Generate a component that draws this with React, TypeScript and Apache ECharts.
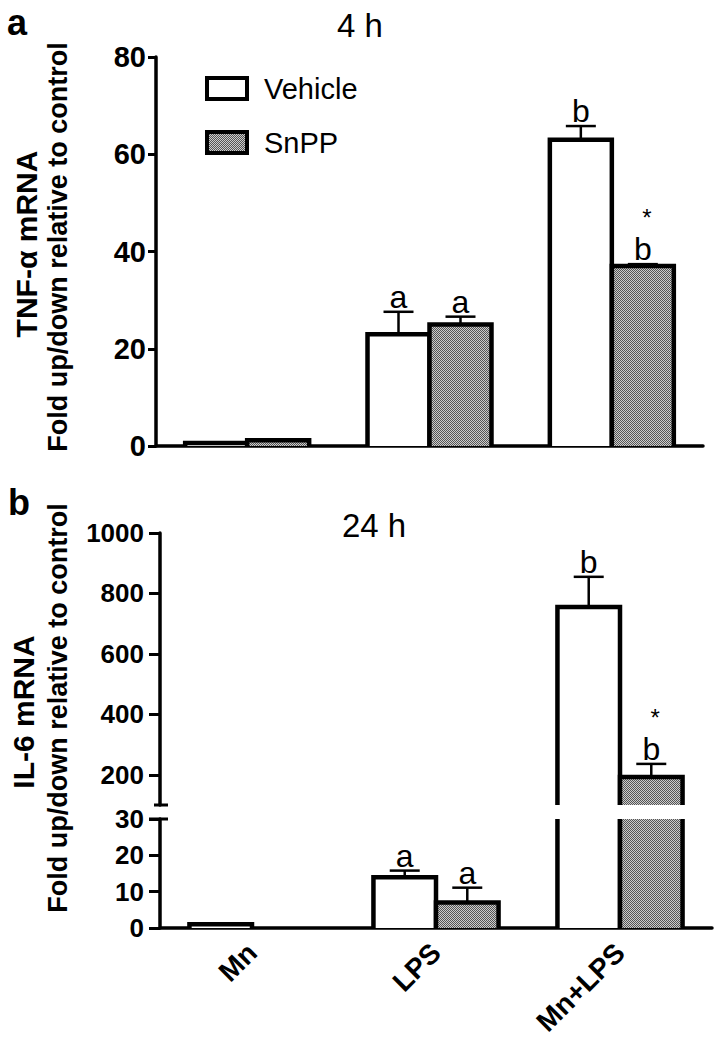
import React, { useEffect, useRef } from "react";
import * as echarts from "echarts";

// ---------- data ----------
const categories = ["Mn", "LPS", "Mn+LPS"];
const seriesNames = ["Vehicle", "SnPP"];

// Panel a: TNF-α mRNA, 4 h
const tnfVehicle = [0.6, 23, 63];
const tnfVehicleErr = [0, 4.6, 2.8];
const tnfVehicleSig = ["", "a", "b"];
const tnfSnpp = [1.2, 25, 37];
const tnfSnppErr = [0, 1.6, 0.4];
const tnfSnppSig = ["", "a", "*b"];
const tnfTicks = [0, 20, 40, 60, 80];

// Panel b: IL-6 mRNA, 24 h (broken axis)
const il6Vehicle = [1, 14, 755];
const il6VehicleErr = [0, 1.8, 100];
const il6VehicleSig = ["", "a", "b"];
const il6Snpp = [0, 7, 193];
const il6SnppErr = [0, 4.1, 43];
const il6SnppSig = ["", "a", "*b"];
const il6UpperTicks = [200, 400, 600, 800, 1000];
const il6LowerTicks = [0, 10, 20, 30];

// ---------- style ----------
const FONT = "'Liberation Sans', Arial, Helvetica, sans-serif";
const BAR_FRAC = 0.34;
const BAR_LW = 4.5;

function makeBarRender(side: number, fill: any) {
  return (params: any, api: any) => {
    const cat = api.value(0);
    const val = api.value(1);
    if (!(val > 0)) return null;
    const cs = params.coordSys;
    const band = api.size([1, 0])[0];
    const w = band * BAR_FRAC;
    const cx = api.coord([cat, 0])[0];
    const x0 = side < 0 ? cx - w : cx;
    const x1 = x0 + w;
    const top = cs.y;
    const bottom = cs.y + cs.height;
    const yTopRaw = api.coord([cat, val])[1];
    const yBaseRaw = api.coord([cat, 0])[1];
    if (yTopRaw >= bottom - 0.1) return null;
    const yTop = Math.max(yTopRaw, top);
    const yBase = Math.min(yBaseRaw, bottom);
    const topVisible = yTopRaw >= top - 0.1;
    const children: any[] = [
      {
        type: "rect",
        shape: { x: x0, y: yTop, width: w, height: yBase - yTop },
        style: { fill, stroke: null },
      },
    ];
    const lineStyle = { stroke: "#000", lineWidth: BAR_LW, fill: null, lineJoin: "miter", lineCap: "butt" };
    if (topVisible) {
      children.push({
        type: "polyline",
        shape: { points: [[x0, yBase], [x0, yTop], [x1, yTop], [x1, yBase]] },
        style: lineStyle,
      });
    } else {
      children.push({ type: "line", shape: { x1: x0, y1: yBase, x2: x0, y2: yTop }, style: lineStyle });
      children.push({ type: "line", shape: { x1: x1, y1: yBase, x2: x1, y2: yTop }, style: lineStyle });
    }
    return { type: "group", children };
  };
}

function makeErrRender(side: number, sig: string[], fontSize: number) {
  return (params: any, api: any) => {
    const cat = api.value(0);
    const v = api.value(1);
    const e = api.value(2);
    const cs = params.coordSys;
    const band = api.size([1, 0])[0];
    const w = band * BAR_FRAC;
    const cx = api.coord([cat, 0])[0] + (side * w) / 2;
    const yMean = api.coord([cat, v])[1];
    const yErr = api.coord([cat, v + e])[1];
    if (yMean > cs.y + cs.height + 0.5 || yErr < cs.y - 0.5) return null;
    const children: any[] = [];
    const ls = { stroke: "#000", lineWidth: 2.5 };
    if (e > 0) {
      children.push({ type: "line", shape: { x1: cx, y1: yMean, x2: cx, y2: yErr }, style: ls });
      children.push({ type: "line", shape: { x1: cx - 15, y1: yErr, x2: cx + 15, y2: yErr }, style: ls });
    }
    const label = sig[params.dataIndex];
    if (label) {
      const hasStar = label.indexOf("*") >= 0;
      const letter = label.replace("*", "");
      children.push({
        type: "text",
        style: {
          x: cx,
          y: yErr + 1,
          text: letter,
          align: "center",
          verticalAlign: "bottom",
          fontSize,
          fontFamily: FONT,
          fill: "#000",
        },
      });
      if (hasStar) {
        children.push({
          type: "text",
          style: {
            x: cx + 4,
            y: yErr + 1 - fontSize * 1.12,
            text: "*",
            align: "center",
            verticalAlign: "bottom",
            fontSize: 24,
            fontFamily: FONT,
            fill: "#000",
          },
        });
      }
    }
    return { type: "group", children };
  };
}

export default function App() {
  const ref = useRef<HTMLDivElement>(null);

  useEffect(() => {
    if (!ref.current) return;
    const chart = echarts.init(ref.current, null, { renderer: "svg" });

    const cvs = document.createElement("canvas");
    cvs.width = 4;
    cvs.height = 4;
    const ctx = cvs.getContext("2d")!;
    ctx.fillStyle = "#cccccc";
    ctx.fillRect(0, 0, 4, 4);
    ctx.fillStyle = "#555555";
    for (let x = 0; x < 4; x++)
      for (let y = 0; y < 4; y++) if ((x + y) % 2 === 0) ctx.fillRect(x, y, 1, 1);
    const pattern: any = { image: cvs, repeat: "repeat" };
    const fills = ["#ffffff", pattern];

    const grids = [
      { left: 156, top: 57, width: 547, height: 389 },
      { left: 160, top: 533, width: 552, height: 272 },
      { left: 160, top: 819, width: 552, height: 109 },
    ];

    const axisLine = { show: true, lineStyle: { color: "#000", width: 3.5 } };

    const xAxis: any[] = grids.map((_, i) => ({
      type: "category",
      gridIndex: i,
      data: categories,
      axisLine: i === 1 ? { show: false } : axisLine,
      axisTick: { show: false },
      axisLabel:
        i === 2
          ? {
              show: true,
              rotate: 45,
              margin: 20,
              fontSize: 28,
              fontWeight: "bold",
              fontFamily: FONT,
              color: "#000",
            }
          : { show: false },
      splitLine: { show: false },
    }));

    const yLabel = (fs: number, margin: number) => ({
      fontSize: fs,
      fontWeight: "bold",
      fontFamily: FONT,
      color: "#000",
      margin,
      formatter: (v: number) => String(v),
    });

    const yAxis: any[] = [
      {
        type: "value",
        gridIndex: 0,
        min: 0,
        max: 80,
        interval: 20,
        axisLine,
        axisTick: { show: true, length: 8, lineStyle: { color: "#000", width: 3 } },
        axisLabel: { ...yLabel(29, 10), customValues: tnfTicks },
        splitLine: { show: false },
      },
      {
        type: "value",
        gridIndex: 1,
        min: 100,
        max: 1000,
        axisLine,
        axisTick: { show: true, length: 11, lineStyle: { color: "#000", width: 3 }, customValues: il6UpperTicks },
        axisLabel: { ...yLabel(26, 16), customValues: il6UpperTicks },
        splitLine: { show: false },
      },
      {
        type: "value",
        gridIndex: 2,
        min: 0,
        max: 30,
        interval: 10,
        axisLine,
        axisTick: { show: true, length: 11, lineStyle: { color: "#000", width: 3 } },
        axisLabel: { ...yLabel(26, 16), customValues: il6LowerTicks },
        splitLine: { show: false },
      },
    ];

    const panels = [
      { grid: 0, vals: [tnfVehicle, tnfSnpp], errs: [tnfVehicleErr, tnfSnppErr], sigs: [tnfVehicleSig, tnfSnppSig] },
      { grid: 1, vals: [il6Vehicle, il6Snpp], errs: [il6VehicleErr, il6SnppErr], sigs: [il6VehicleSig, il6SnppSig] },
      { grid: 2, vals: [il6Vehicle, il6Snpp], errs: [il6VehicleErr, il6SnppErr], sigs: [il6VehicleSig, il6SnppSig] },
    ];

    const series: any[] = [];
    panels.forEach((p) => {
      [0, 1].forEach((s) => {
        const side = s === 0 ? -1 : 1;
        series.push({
          type: "custom",
          name: seriesNames[s],
          coordinateSystem: "cartesian2d",
          xAxisIndex: p.grid,
          yAxisIndex: p.grid,
          itemStyle: { color: s === 0 ? "#fff" : "#999" },
          encode: { x: 0, y: 1 },
          clip: false,
          z: 2,
          renderItem: makeBarRender(side, fills[s]),
          data: p.vals[s].map((v, i) => [i, v]),
        });
      });
      [0, 1].forEach((s) => {
        const side = s === 0 ? -1 : 1;
        series.push({
          type: "custom",
          name: seriesNames[s] + " error",
          coordinateSystem: "cartesian2d",
          xAxisIndex: p.grid,
          yAxisIndex: p.grid,
          encode: { x: 0, y: 1 },
          clip: false,
          z: 3,
          renderItem: makeErrRender(side, p.sigs[s], 32),
          data: p.vals[s].map((v, i) => [i, v, p.errs[s][i]]),
        });
      });
    });

    const lineSt = { stroke: "#000", lineWidth: 3 };

    chart.setOption({
      animation: false,
      backgroundColor: "#fff",
      grid: grids.map((g) => ({ ...g, containLabel: false })),
      xAxis,
      yAxis,
      legend: {
        show: true,
        orient: "vertical",
        left: 205,
        top: 74,
        icon: "rect",
        itemWidth: 40,
        itemHeight: 21,
        itemGap: 25,
        selectedMode: false,
        padding: 0,
        textStyle: { fontSize: 29, fontFamily: FONT, color: "#000", padding: [0, 0, 0, 12] },
        data: [
          { name: "Vehicle", itemStyle: { color: "#fff", borderColor: "#000", borderWidth: 4 } },
          { name: "SnPP", itemStyle: { color: pattern, borderColor: "#000", borderWidth: 4 } },
        ],
      },
      graphic: [
        { type: "text", left: 7, top: 4, style: { text: "a", fontSize: 36, fontWeight: "bold", fontFamily: FONT, fill: "#000" } },
        { type: "text", left: 8, top: 484, style: { text: "b", fontSize: 36, fontWeight: "bold", fontFamily: FONT, fill: "#000" } },
        {
          type: "text",
          x: 360,
          y: 25,
          style: { text: "4 h", fontSize: 33, fontFamily: FONT, fill: "#000", align: "center", verticalAlign: "middle" },
        },
        {
          type: "text",
          x: 374,
          y: 525,
          style: { text: "24 h", fontSize: 33, fontFamily: FONT, fill: "#000", align: "center", verticalAlign: "middle" },
        },
        {
          type: "text",
          x: 26,
          y: 244,
          rotation: Math.PI / 2,
          style: { text: "TNF-α mRNA", fontSize: 30, fontWeight: "bold", fontFamily: FONT, fill: "#000", align: "center", verticalAlign: "middle" },
        },
        {
          type: "text",
          x: 58,
          y: 247,
          rotation: Math.PI / 2,
          style: { text: "Fold up/down relative to control", fontSize: 27, fontWeight: "bold", fontFamily: FONT, fill: "#000", align: "center", verticalAlign: "middle" },
        },
        {
          type: "text",
          x: 23,
          y: 712,
          rotation: Math.PI / 2,
          style: { text: "IL-6 mRNA", fontSize: 30, fontWeight: "bold", fontFamily: FONT, fill: "#000", align: "center", verticalAlign: "middle" },
        },
        {
          type: "text",
          x: 58,
          y: 708,
          rotation: Math.PI / 2,
          style: { text: "Fold up/down relative to control", fontSize: 27, fontWeight: "bold", fontFamily: FONT, fill: "#000", align: "center", verticalAlign: "middle" },
        },
        // axis break marks
        { type: "line", shape: { x1: 154, y1: 805, x2: 168, y2: 805 }, style: lineSt, z: 10 },
        { type: "line", shape: { x1: 149, y1: 819, x2: 168, y2: 819 }, style: lineSt, z: 10 },
      ],
      series,
    });

    return () => chart.dispose();
  }, []);

  return (
    <div
      ref={ref}
      style={{ position: "absolute", left: 0, top: 0, width: 722, height: 1048, background: "#fff" }}
    />
  );
}
